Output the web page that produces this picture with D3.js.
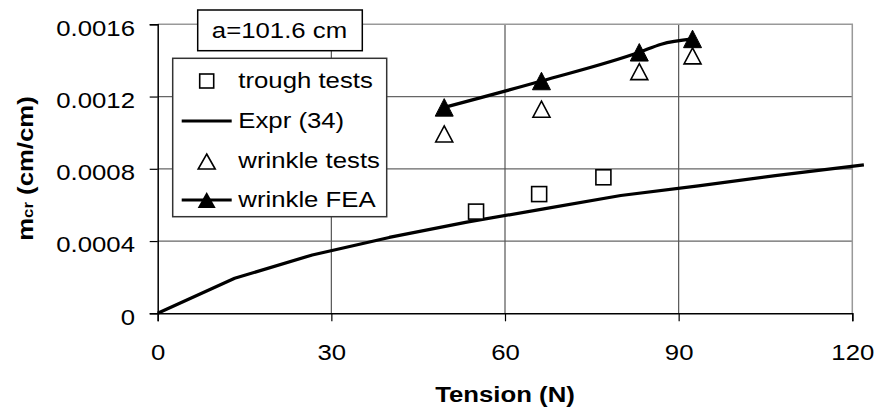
<!DOCTYPE html>
<html>
<head>
<meta charset="utf-8">
<script src="https://cdn.jsdelivr.net/npm/d3@7"></script>
<style>
  body { margin: 0; background: #fff; }
  text { font-family: "Liberation Sans", Arial, sans-serif; fill: #000; }
</style>
</head>
<body>
<div id="chart"></div>
<script>
// values
var xTicks = [0, 30, 60, 90, 120];
var yTicks = [0, 0.0004, 0.0008, 0.0012, 0.0016];
var yTickLabels = ["0", "0.0004", "0.0008", "0.0012", "0.0016"];

var exprT = [0, 13.3, 26.7, 40, 53.4, 66.7, 80, 93.4, 106.7, 122];
var exprM = [0, 0.000194, 0.000323, 0.00042, 0.000505, 0.000578, 0.000652, 0.000705, 0.000762, 0.000822];

var troughT = [55.0, 65.9, 77.0];
var troughM = [0.000563, 0.00066, 0.000753];

var wrinkleT = [49.5, 66.3, 83.2, 92.4];
var wrinkleM = [0.000993, 0.00113, 0.001338, 0.001425];

var feaT = [49.5, 66.3, 83.2, 92.4];
var feaM = [0.00114, 0.001286, 0.001445, 0.001519];
// the FEA curve bends a little between the last two markers
var feaLineT = [49.5, 66.3, 83.2, 87.0, 92.4];
var feaLineM = [0.00114, 0.001286, 0.001445, 0.00149, 0.001519];

var legendNames = ["trough tests", "Expr (34)", "wrinkle tests", "wrinkle FEA"];

var width = 879, height = 414;
var fs = 23, sx = 1.12;   // glyphs in the picture are a bit wide

var svg = d3.select("#chart").append("svg")
  .attr("width", width)
  .attr("height", height);

var x = d3.scaleLinear().domain([0, 120]).range([157.7, 852.3]);
var y = d3.scaleLinear().domain([0, 0.0016]).range([313.3, 24.3]);

function label(g, px, py, txt, anchor, bold) {
  return g.append("text")
    .attr("transform", "translate(" + px + "," + py + ") scale(" + sx + ",1)")
    .attr("text-anchor", anchor || "start")
    .attr("font-size", fs)
    .attr("font-weight", bold ? "bold" : "normal")
    .text(txt);
}

// grid
var grid = svg.append("g");
grid.selectAll("line.h")
  .data(yTicks.slice(1, 4))
  .enter().append("line")
  .attr("x1", x(0)).attr("x2", x(120))
  .attr("y1", d => y(d)).attr("y2", d => y(d))
  .attr("stroke", "#666").attr("stroke-width", 1.2);
grid.selectAll("line.v")
  .data(xTicks.slice(1, 4))
  .enter().append("line")
  .attr("x1", d => x(d)).attr("x2", d => x(d))
  .attr("y1", y(0)).attr("y2", y(0.0016))
  .attr("stroke", "#555").attr("stroke-width", 1.2);
// plot area border (top, right)
grid.append("path")
  .attr("d", "M" + x(0) + "," + y(0.0016) + "H" + x(120) + "V" + y(0))
  .attr("fill", "none").attr("stroke", "#999").attr("stroke-width", 1.5);

// axes
var yAxis = svg.append("g")
  .attr("transform", "translate(" + x(0) + ",0)")
  .call(d3.axisLeft(y).tickValues(yTicks).tickSize(8).tickFormat((d, i) => yTickLabels[i]));
var xAxis = svg.append("g")
  .attr("transform", "translate(0," + y(0) + ")")
  .call(d3.axisBottom(x).tickValues(xTicks).tickSize(8).tickFormat(d3.format("d")));

[yAxis, xAxis].forEach(function (a) {
  a.select(".domain").attr("stroke", "#000").attr("stroke-width", 1.5);
  a.selectAll(".tick line").attr("stroke", "#000").attr("stroke-width", 1.2);
  a.selectAll(".tick text").attr("font-size", fs).attr("fill", "#000")
    .attr("font-family", '"Liberation Sans", Arial, sans-serif');
});
yAxis.selectAll(".tick text")
  .attr("x", null).attr("dy", null)
  .attr("transform", "translate(-22.7,10.7) scale(" + sx + ",1)");
xAxis.selectAll(".tick text")
  .attr("y", null).attr("dy", null)
  .attr("transform", "translate(0,46.7) scale(" + sx + ",1)");

// axis titles
label(svg, 505, 401.7, "Tension (N)", "middle", true);
var yt = svg.append("text")
  .attr("transform", "translate(33.3,168.5) rotate(-90) scale(" + sx + ",1)")
  .attr("text-anchor", "middle")
  .attr("font-size", fs)
  .attr("font-weight", "bold");
yt.append("tspan").text("m");
yt.append("tspan").attr("font-size", fs * 0.65).text("cr");
yt.append("tspan").text(" (cm/cm)");

// series
var line = d3.line().x(d => x(d[0])).y(d => y(d[1]));
svg.append("path")
  .datum(d3.zip(exprT, exprM))
  .attr("d", line)
  .attr("fill", "none").attr("stroke", "#000").attr("stroke-width", 3.2)
  .attr("stroke-linejoin", "round");
svg.append("path")
  .datum(d3.zip(feaLineT, feaLineM))
  .attr("d", line.curve(d3.curveMonotoneX))
  .attr("fill", "none").attr("stroke", "#000").attr("stroke-width", 3.2)
  .attr("stroke-linejoin", "round");

function triPath(cx, cy, w, h) {
  return "M" + cx + "," + (cy - h / 2) + "L" + (cx + w / 2) + "," + (cy + h / 2) +
    "L" + (cx - w / 2) + "," + (cy + h / 2) + "Z";
}

svg.append("g").selectAll("rect")
  .data(d3.zip(troughT, troughM))
  .enter().append("rect")
  .attr("x", d => x(d[0]) - 7.5).attr("y", d => y(d[1]) - 7.5)
  .attr("width", 15).attr("height", 15)
  .attr("fill", "#fff").attr("stroke", "#000").attr("stroke-width", 1.6);

svg.append("g").selectAll("path")
  .data(d3.zip(wrinkleT, wrinkleM))
  .enter().append("path")
  .attr("d", d => triPath(x(d[0]), y(d[1]), 17, 16))
  .attr("fill", "#fff").attr("stroke", "#000").attr("stroke-width", 1.6);

svg.append("g").selectAll("path")
  .data(d3.zip(feaT, feaM))
  .enter().append("path")
  .attr("d", d => triPath(x(d[0]), y(d[1]), 18, 17.5))
  .attr("fill", "#000").attr("stroke", "#000").attr("stroke-width", 1);

// title box
svg.append("rect")
  .attr("x", 197.7).attr("y", 10).attr("width", 164.6).attr("height", 40.7)
  .attr("fill", "#fff").attr("stroke", "#000").attr("stroke-width", 1.5);
label(svg, 279.5, 38.3, "a=101.6 cm", "middle");

// legend
var lg = svg.append("g");
lg.append("rect")
  .attr("x", 172.7).attr("y", 58.3).attr("width", 214).attr("height", 158.4)
  .attr("fill", "#fff").attr("stroke", "#333").attr("stroke-width", 1.5);
var rowY = [81, 121, 161.5, 200];
var base = [88.3, 128.3, 168.3, 206.7];
var mx = 206.7;
lg.append("rect")
  .attr("x", mx - 7).attr("y", rowY[0] - 7).attr("width", 14).attr("height", 14)
  .attr("fill", "#fff").attr("stroke", "#000").attr("stroke-width", 1.6);
lg.append("line")
  .attr("x1", 181.7).attr("x2", 231.7).attr("y1", rowY[1]).attr("y2", rowY[1])
  .attr("stroke", "#000").attr("stroke-width", 3.2);
lg.append("path")
  .attr("d", triPath(mx, rowY[2], 17, 15))
  .attr("fill", "#fff").attr("stroke", "#000").attr("stroke-width", 1.6);
lg.append("line")
  .attr("x1", 181.7).attr("x2", 231.7).attr("y1", rowY[3]).attr("y2", rowY[3])
  .attr("stroke", "#000").attr("stroke-width", 3.2);
lg.append("path")
  .attr("d", triPath(mx, rowY[3], 18, 16))
  .attr("fill", "#000");
legendNames.forEach(function (n, i) {
  label(lg, 238.3, base[i], n, "start");
});
</script>
</body>
</html>
